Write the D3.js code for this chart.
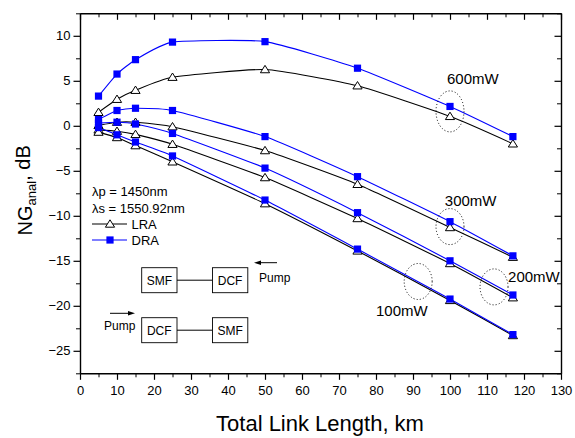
<!DOCTYPE html>
<html>
<head>
<meta charset="utf-8">
<script src="https://cdn.jsdelivr.net/npm/d3@7"></script>
<style>
  body { margin: 0; background: #fff; }
  text { font-family: Arial, "Liberation Sans", sans-serif; fill: #000; }
</style>
</head>
<body>
<div id="chart"></div>
<script>
// Total link length (km) for every series
const xKm = [5, 10, 15, 25, 50, 75, 100, 117];

// Net gain, dB  (DRA = squares, LRA = triangles)
const dra600 = [3.3, 5.75, 7.35, 9.3, 9.35, 6.4, 2.15, -1.2];
const lra600 = [1.5, 2.95, 3.95, 5.4, 6.25, 4.45, 1.05, -2.0];
const dra300 = [0.7, 1.7, 1.95, 1.7, -1.2, -5.65, -10.65, -14.45];
const lra300 = [0.05, 0.4, 0.4, -0.1, -2.75, -6.5, -11.3, -14.6];
const dra200 = [0.3, 0.4, 0.2, -0.85, -4.7, -9.65, -15.0, -18.8];
const lra200 = [-0.45, -0.6, -0.95, -2.05, -5.75, -10.3, -15.3, -19.1];
const dra100 = [-0.2, -1.0, -1.8, -3.35, -8.25, -13.7, -19.25, -23.2];
const lra100 = [-0.7, -1.3, -2.2, -4.0, -8.65, -13.9, -19.4, -23.3];

const xTicks = d3.range(0, 131, 10);
const yTicks = d3.range(-25, 11, 5);

// power labels and the dotted rings round them (data units)
const powerLabels = ['600mW', '300mW', '200mW', '100mW'];
const labelPos = [[99.2, 4.6], [98.6, -8.9], [115.7, -17.3], [80, -21.1]];
const ringPos = [[100, 1.6], [100, -11.2], [111.9, -17.9], [91.4, -17.3]];

const width = 575;
const height = 438;
const margin = { left: 80, top: 13.3, right: 14, bottom: 64.7 };
const plotW = width - margin.left - margin.right;
const plotH = height - margin.top - margin.bottom;

const svg = d3.select('#chart').append('svg')
  .attr('width', width)
  .attr('height', height);

const x = d3.scaleLinear().domain([0, 130]).range([margin.left, margin.left + plotW]);
const y = d3.scaleLinear().domain([-27.5, 12.5]).range([margin.top + plotH, margin.top]);

const xMinor = d3.range(5, 130, 10);
const yMinor = d3.range(-27.5, 12.6, 2.5).filter(v => v % 5 !== 0);

// axes: labelled bottom/left with outward ticks, mirrored top/right with inward ticks
const styleAxis = g => {
  g.select('.domain').attr('stroke-width', 1.4);
  g.selectAll('.tick line').attr('stroke-width', 1.2);
  g.selectAll('text').style('font-size', '13px').attr('fill', '#000');
};

svg.append('g')
  .attr('transform', `translate(0,${y(-27.5)})`)
  .call(d3.axisBottom(x).tickValues(xTicks).tickSize(6.5).tickPadding(4).tickSizeOuter(0))
  .call(styleAxis)
  .call(g => g.selectAll('text').attr('dy', '0.85em'));

svg.append('g')
  .attr('transform', `translate(0,${y(-27.5)})`)
  .call(d3.axisBottom(x).tickValues(xMinor).tickSize(4).tickFormat('').tickSizeOuter(0))
  .call(g => g.select('.domain').remove());

svg.append('g')
  .attr('transform', `translate(0,${y(12.5)})`)
  .call(d3.axisBottom(x).tickValues(xTicks).tickSize(6.5).tickFormat('').tickSizeOuter(0))
  .call(styleAxis);

svg.append('g')
  .attr('transform', `translate(0,${y(12.5)})`)
  .call(d3.axisBottom(x).tickValues(xMinor).tickSize(4).tickFormat('').tickSizeOuter(0))
  .call(g => g.select('.domain').remove());

svg.append('g')
  .attr('transform', `translate(${x(0)},0)`)
  .call(d3.axisLeft(y).tickValues(yTicks).tickSize(6.5).tickPadding(3).tickSizeOuter(0))
  .call(styleAxis);

svg.append('g')
  .attr('transform', `translate(${x(0)},0)`)
  .call(d3.axisLeft(y).tickValues(yMinor).tickSize(4).tickFormat('').tickSizeOuter(0))
  .call(g => g.select('.domain').remove());

svg.append('g')
  .attr('transform', `translate(${x(130)},0)`)
  .call(d3.axisLeft(y).tickValues(yTicks).tickSize(6.5).tickFormat('').tickSizeOuter(0))
  .call(styleAxis);

svg.append('g')
  .attr('transform', `translate(${x(130)},0)`)
  .call(d3.axisLeft(y).tickValues(yMinor).tickSize(4).tickFormat('').tickSizeOuter(0))
  .call(g => g.select('.domain').remove());

// axis titles
svg.append('text')
  .attr('x', x(65) - 0.5)
  .attr('y', 430.5)
  .attr('text-anchor', 'middle')
  .style('font-size', '22px')
  .text('Total Link Length, km');

const yTitle = svg.append('text')
  .attr('transform', `translate(32,${y(-7.5) - 3}) rotate(-90)`)
  .attr('text-anchor', 'middle')
  .style('font-size', '20px');
yTitle.append('tspan').text('NG');
yTitle.append('tspan').attr('dy', '0.3em').style('font-size', '13px').text('anal');
yTitle.append('tspan').attr('dy', '-0.3em').text(', dB');

// curves
const line = d3.line()
  .x((d, i) => x(xKm[i]))
  .y(d => y(d))
  .curve(d3.curveCardinal.tension(0.5));

const lraSeries = [lra600, lra300, lra200, lra100];
const draSeries = [dra600, dra300, dra200, dra100];

const triPath = 'M0,-4.2L4.6,3.2L-4.6,3.2Z';

lraSeries.forEach(s => {
  svg.append('path').attr('d', line(s))
    .attr('fill', 'none').attr('stroke', '#000').attr('stroke-width', 1.1);
});
draSeries.forEach(s => {
  svg.append('path').attr('d', line(s))
    .attr('fill', 'none').attr('stroke', '#0000ff').attr('stroke-width', 1.1);
});

lraSeries.forEach(s => {
  svg.append('g').selectAll('path').data(s).enter().append('path')
    .attr('d', triPath)
    .attr('transform', (d, i) => `translate(${x(xKm[i])},${y(d)})`)
    .attr('fill', '#fff').attr('stroke', '#000').attr('stroke-width', 1);
});
draSeries.forEach(s => {
  svg.append('g').selectAll('rect').data(s).enter().append('rect')
    .attr('x', (d, i) => x(xKm[i]) - 3.6)
    .attr('y', d => y(d) - 3.6)
    .attr('width', 7.2).attr('height', 7.2)
    .attr('fill', '#0000ff');
});

// power annotations
svg.append('g').selectAll('ellipse').data(ringPos).enter().append('ellipse')
  .attr('cx', d => x(d[0])).attr('cy', d => y(d[1]))
  .attr('rx', 14).attr('ry', (d, i) => i === 0 ? 20.5 : 18)
  .attr('fill', 'none').attr('stroke', '#000').attr('stroke-width', 1)
  .attr('stroke-dasharray', '1,2.2');

svg.append('g').selectAll('text').data(powerLabels).enter().append('text')
  .attr('x', (d, i) => x(labelPos[i][0]))
  .attr('y', (d, i) => y(labelPos[i][1]))
  .style('font-size', '15px')
  .text(d => d);

// legend
const leg = svg.append('g').style('font-size', '13px');
leg.append('text').attr('x', 92).attr('y', 196).text('λp = 1450nm');
leg.append('text').attr('x', 92).attr('y', 212.5).text('λs = 1550.92nm');
leg.append('line').attr('x1', 92).attr('x2', 127).attr('y1', 224).attr('y2', 224)
  .attr('stroke', '#000').attr('stroke-width', 1.1);
leg.append('path').attr('d', triPath).attr('transform', 'translate(110,224)')
  .attr('fill', '#fff').attr('stroke', '#000');
leg.append('text').attr('x', 131.5).attr('y', 228.5).text('LRA');
leg.append('line').attr('x1', 92).attr('x2', 127).attr('y1', 240).attr('y2', 240)
  .attr('stroke', '#0000ff').attr('stroke-width', 1.1);
leg.append('rect').attr('x', 106.4).attr('y', 236.4).attr('width', 7.2).attr('height', 7.2)
  .attr('fill', '#0000ff');
leg.append('text').attr('x', 131.5).attr('y', 244.5).text('DRA');

// set-up sketches
const sketch = svg.append('g').style('font-size', '12px');
const drawSetup = (top, names) => {
  sketch.append('line').attr('x1', 177).attr('x2', 212.5).attr('y1', top + 12.5).attr('y2', top + 12.5)
    .attr('stroke', '#000');
  [141.7, 212.5].forEach((bx, i) => {
    sketch.append('rect').attr('x', bx).attr('y', top).attr('width', 35.3).attr('height', 25)
      .attr('fill', '#fff').attr('stroke', '#000').attr('stroke-width', 0.9);
    sketch.append('text').attr('x', bx + 17.6).attr('y', top + 17).attr('text-anchor', 'middle')
      .text(names[i]);
  });
};
drawSetup(267.7, ['SMF', 'DCF']);
drawSetup(317.7, ['DCF', 'SMF']);

const arrow = (x1, x2, yy) => {
  const dir = Math.sign(x2 - x1);
  sketch.append('line').attr('x1', x1).attr('x2', x2 - dir * 5).attr('y1', yy).attr('y2', yy)
    .attr('stroke', '#000');
  sketch.append('path')
    .attr('d', `M${x2},${yy}L${x2 - dir * 7},${yy - 2.3}L${x2 - dir * 7},${yy + 2.3}Z`)
    .attr('fill', '#000');
};
arrow(277, 254, 262.7);
sketch.append('text').attr('x', 259).attr('y', 281.5).text('Pump');
arrow(110, 135, 313.3);
sketch.append('text').attr('x', 104).attr('y', 330).text('Pump');
</script>
</body>
</html>
